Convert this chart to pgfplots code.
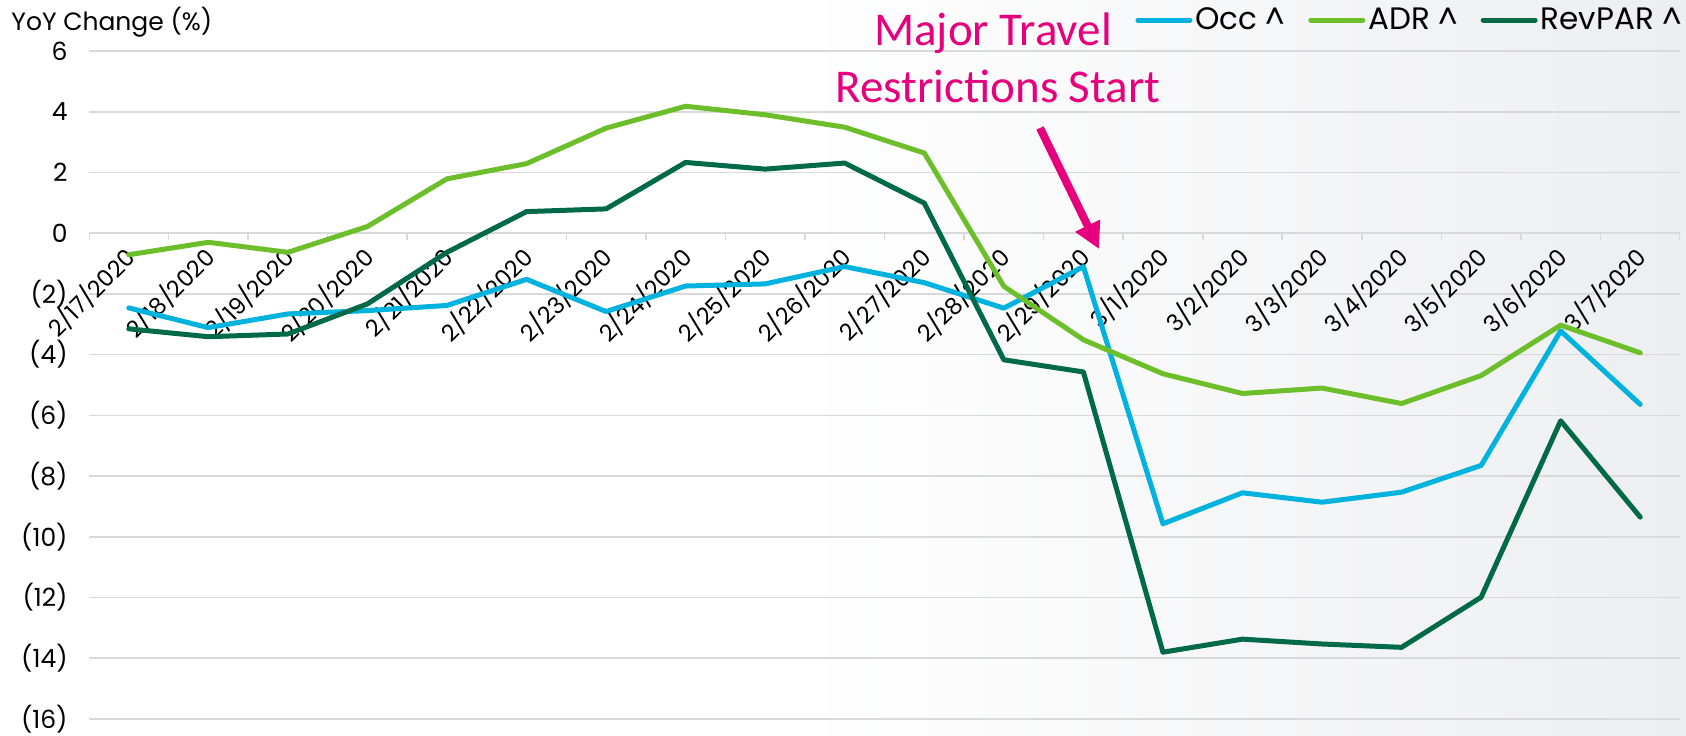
\documentclass[border=0pt]{standalone}
\usepackage{fontspec}
\setmainfont{Poppins}
\newfontfamily\carlito{Carlito}
\usepackage{pgfplots}
\pgfplotsset{compat=1.18}
\usetikzlibrary{arrows.meta}
\definecolor{occ}{RGB}{0,178,222}
\definecolor{adr}{RGB}{108,190,42}
\definecolor{rev}{RGB}{0,106,72}
\definecolor{mag}{RGB}{230,0,126}
\definecolor{gridc}{RGB}{217,217,217}
\definecolor{bgr}{RGB}{237,238,240}
\begin{document}
\begin{tikzpicture}
\useasboundingbox (0pt,0pt) rectangle (843pt,367.5pt);
\fill[white] (0pt,0pt) rectangle (843pt,367.5pt);
\shade[left color=white, right color=bgr] (400pt,0pt) rectangle (843pt,367.5pt);
\begin{axis}[at={(44.5pt,8pt)}, anchor=south west, scale only axis,
  width=795.5pt, height=334pt,
  xmin=-0.5, xmax=19.5, ymin=-16, ymax=6,
  axis line style={draw=none},
  tick style={draw=none},
  ytick={-16,-14,...,6},
  yticklabels={(16),(14),(12),(10),(8),(6),(4),(2),0,2,4,6},
  xtick={0,...,19},
  xticklabels={2/17/2020,2/18/2020,2/19/2020,2/20/2020,2/21/2020,2/22/2020,2/23/2020,2/24/2020,2/25/2020,2/26/2020,2/27/2020,2/28/2020,2/29/2020,3/1/2020,3/2/2020,3/3/2020,3/4/2020,3/5/2020,3/6/2020,3/7/2020},
  ymajorgrids, grid style={gridc, line width=0.8pt},
  yticklabel style={font=\fontsize{12.5}{14}\selectfont, anchor=east, inner sep=0pt, xshift=-10.5pt},
  xticklabel style={font=\fontsize{11.6}{13.5}\selectfont, inner sep=0pt, anchor=east, xshift=1pt, yshift=233pt, rotate=45},
  legend columns=3,
  legend style={at={(axis description cs:0.6575,1.0464)}, anchor=west, draw=none, fill=none,
    inner sep=0pt, font=\fontsize{15.5}{18}\selectfont,
    nodes={inner xsep=1.5pt, inner ysep=0pt},
    /tikz/every even column/.append style={column sep=10pt}},
  legend image code/.code={\draw[#1, line width=2.5pt] (0pt,0pt) -- (26pt,0pt);},
  every axis plot/.append style={line width=2.5pt, line join=round, line cap=round},
]
\addplot[gridc, line width=0.8pt, ycomb, forget plot, line cap=butt] coordinates {
(-0.5,-0.23) (0.5,-0.23) (1.5,-0.23) (2.5,-0.23) (3.5,-0.23) (4.5,-0.23) (5.5,-0.23)
(6.5,-0.23) (7.5,-0.23) (8.5,-0.23) (9.5,-0.23) (10.5,-0.23) (11.5,-0.23) (12.5,-0.23)
(13.5,-0.23) (14.5,-0.23) (15.5,-0.23) (16.5,-0.23) (17.5,-0.23) (18.5,-0.23) (19.5,-0.23)};
\addplot[occ] coordinates {
(0,-2.46) (1,-3.11) (2,-2.66) (3,-2.55) (4,-2.38) (5,-1.52) (6,-2.58) (7,-1.74) (8,-1.67) (9,-1.10)
(10,-1.63) (11,-2.47) (12,-1.10) (13,-9.57) (14,-8.55) (15,-8.86) (16,-8.53) (17,-7.65) (18,-3.22) (19,-5.64)};
\addlegendentry{Occ \textasciicircum}
\addplot[adr] coordinates {
(0,-0.71) (1,-0.30) (2,-0.63) (3,0.22) (4,1.79) (5,2.29) (6,3.46) (7,4.18) (8,3.90) (9,3.49)
(10,2.64) (11,-1.75) (12,-3.51) (13,-4.63) (14,-5.28) (15,-5.10) (16,-5.61) (17,-4.69) (18,-3.03) (19,-3.94)};
\addlegendentry{ADR \textasciicircum}
\addplot[rev] coordinates {
(0,-3.15) (1,-3.41) (2,-3.32) (3,-2.33) (4,-0.63) (5,0.71) (6,0.80) (7,2.33) (8,2.11) (9,2.31)
(10,0.99) (11,-4.17) (12,-4.57) (13,-13.80) (14,-13.37) (15,-13.53) (16,-13.64) (17,-11.99) (18,-6.18) (19,-9.35)};
\addlegendentry{RevPAR \textasciicircum}
\end{axis}
\node[anchor=west, inner sep=0pt, font=\fontsize{12.5}{15}\selectfont] at (5.5pt,356.5pt) {YoY Change (\%)};
\node[anchor=base, inner sep=0pt, text=mag, font=\carlito\fontsize{23.5}{28}\selectfont] at (496.5pt,344.7pt) {Major Travel};
\node[anchor=base, inner sep=0pt, text=mag, font=\carlito\fontsize{23.5}{28}\selectfont] at (499pt,316pt) {Restrictions Start};
\draw[mag, line width=4pt, -{Triangle[length=13pt,width=13pt]}] (520pt,303.5pt) -- (549.5pt,243pt);
\end{tikzpicture}
\end{document}
